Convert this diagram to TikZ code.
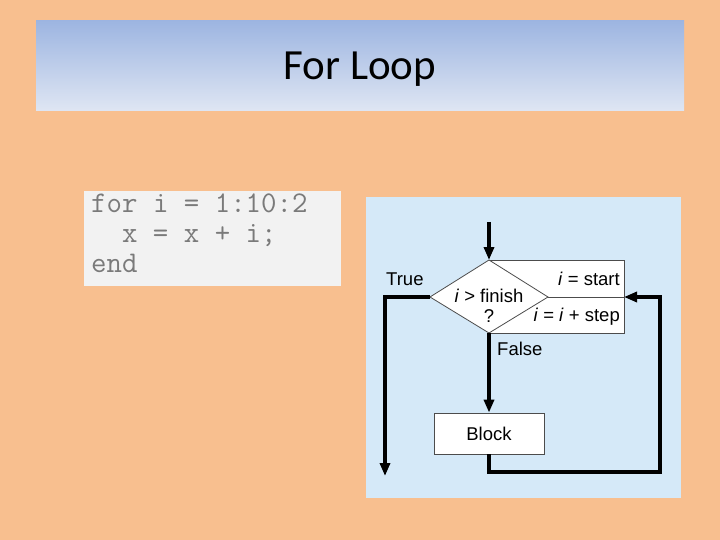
\documentclass[tikz,border=0pt]{standalone}
\usepackage{fontspec}
\setmainfont{Liberation Sans}
\newfontfamily\titlefont{Carlito}
\usetikzlibrary{arrows.meta}
\definecolor{bgorange}{HTML}{F8BF8F}
\definecolor{titletop}{HTML}{9DB5E1}
\definecolor{titlebot}{HTML}{DFE6F3}
\definecolor{panelblue}{HTML}{D5E9F8}
\definecolor{codebg}{HTML}{F2F2F2}
\definecolor{codegray}{HTML}{7A7A7A}
\tikzset{
  flow/.style={line width=3.5pt, draw=black},
  thin/.style={line width=0.8pt, draw=black!70},
  flowarrow/.style={flow, -{Triangle[length=13pt,width=10pt]}},
  lbl/.style={font=\fontsize{18.5}{20}\selectfont, inner sep=0pt},
  codetxt/.style={font=\ttfamily\fontsize{30}{32}\selectfont, text=codegray, inner sep=0pt, anchor=base west}
}
\begin{document}
\begin{tikzpicture}[x=1pt,y=-1pt]
\useasboundingbox (0,0) rectangle (720,540);
\fill[bgorange] (0,0) rectangle (720,540);
% title
\shade[top color=titletop, bottom color=titlebot] (36,21) rectangle (684,111);
\node[font=\titlefont\fontsize{43}{48}\selectfont, anchor=base] (title) at (360,80) {For Loop};
% code box
\fill[codebg] (84,191) rectangle (341,286);
\node[codetxt] (c1) at (91,212) {for i = 1:10:2};
\node[codetxt] (c2) at (91,242) {\ \ x = x + i;};
\node[codetxt] (c3) at (91,272) {end};
% flowchart panel
\fill[panelblue] (366,197) rectangle (681,498);
\coordinate (entry) at (489,222);
\coordinate (dtop) at (489,260);
\coordinate (dleft) at (430,297);
\coordinate (dright) at (548,297);
\coordinate (dbot) at (489,333);
\coordinate (rne) at (624,260);
\coordinate (rse) at (624,333);
\coordinate (rmid) at (624,297);
\fill[white] (dtop) -- (rne) -- (rse) -- (dbot) -- cycle;
\draw[thin] (dtop) -- (rne) -- (rse) -- (dbot);
\draw[thin] (dright) -- (rmid);
\fill[white] (dtop) -- (dright) -- (dbot) -- (dleft) -- cycle;
\draw[thin] (dtop) -- (dright) -- (dbot) -- (dleft) -- cycle;
\node[lbl, anchor=base] (cond) at (489,302) {\textit{i} > finish};
\node[lbl, anchor=base] (q) at (489,322) {?};
\node[lbl, anchor=base east] (init) at (620,285) {\textit{i} = start};
\node[lbl, anchor=base east] (incr) at (620,321) {\textit{i} = \textit{i} + step};
\node[lbl, anchor=base west] (truel) at (386,285) {True};
\node[lbl, anchor=base west] (falsel) at (497,355) {False};
\node[draw=black!70, line width=0.8pt, fill=white, minimum width=110pt, minimum height=41pt, font=\fontsize{18.5}{20}\selectfont] (block) at (489,433.5) {Block};
\coordinate (tcorner) at (385,297);
\coordinate (tend) at (385,476);
\coordinate (b1) at (489,472);
\coordinate (b2) at (660,472);
\coordinate (b3) at (660,297);
\draw[flowarrow] (entry) -- (dtop);
\draw[flowarrow] (dleft) -- (tcorner) -- (tend);
\draw[flowarrow] (dbot) -- (block.north);
\draw[flowarrow] (block.south) -- (b1) -- (b2) -- (b3) -- (rmid);
\end{tikzpicture}
\end{document}
